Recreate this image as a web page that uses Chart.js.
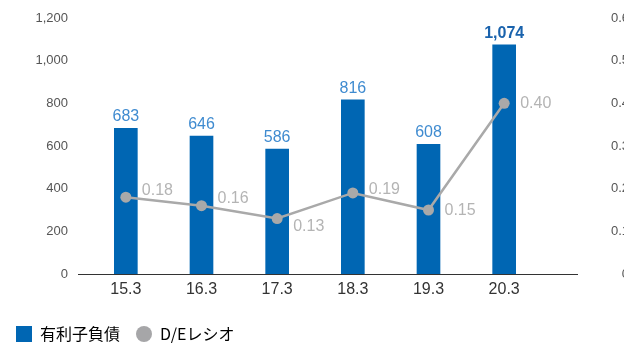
<!DOCTYPE html>
<html lang="ja">
<head>
<meta charset="utf-8">
<title>有利子負債とD/Eレシオ</title>
<script src="https://cdn.jsdelivr.net/npm/chart.js@4/dist/chart.umd.min.js"></script>
<style>
    html, body { margin: 0; padding: 0; background: #fff; }
    #wrap { width: 624px; height: 347px; position: relative; }
</style>
</head>
<body>
<div id="wrap"><canvas id="debtChart"></canvas></div>
<script>
const periods = ['15.3', '16.3', '17.3', '18.3', '19.3', '20.3'];
const debt = [683, 646, 586, 816, 608, 1074];
const deRatio = [0.18, 0.16, 0.13, 0.19, 0.15, 0.40];
const debtTicks = [0, 200, 400, 600, 800, 1000, 1200];
const ratioTicks = [0, 0.1, 0.2, 0.3, 0.4, 0.5, 0.6];

const BAR_BLUE = '#0066b3';
const LINE_GRAY = '#a9a9a9';
const TICK_FONT = "'Liberation Sans', Arial, sans-serif";

// 値ラベルの位置調整 (折れ線ラベルは点ごとに上下をずらす)
const lineLabelShift = [-2, -3, 12, 1, 5, 5];

// 縦軸の目盛ラベル分の上下余白は使わない
function noVerticalPadding(scale) {
    scale.paddingTop = 0;
    scale.paddingBottom = 0;
}

const valueLabels = {
    id: 'valueLabels',
    beforeDatasetsDraw(chart) {
        // 横軸の基線はプロット領域より左右に少し長く引く
        const ctx = chart.ctx;
        const area = chart.chartArea;
        const y0 = Math.round(chart.scales.y.getPixelForValue(0)) + 0.5;
        ctx.save();
        ctx.strokeStyle = '#333';
        ctx.lineWidth = 1;
        ctx.beginPath();
        ctx.moveTo(area.left - 10, y0);
        ctx.lineTo(area.right + 36, y0);
        ctx.stroke();
        ctx.restore();
    },
    afterDatasetsDraw(chart) {
        const ctx = chart.ctx;
        ctx.save();

        // 棒の上の金額
        const barMeta = chart.getDatasetMeta(0);
        ctx.textAlign = 'center';
        ctx.textBaseline = 'alphabetic';
        barMeta.data.forEach((bar, i) => {
            const last = i === debt.length - 1;
            ctx.font = (last ? 'bold ' : '') + '16px ' + TICK_FONT;
            ctx.fillStyle = last ? '#1a63ad' : '#3f8bd0';
            ctx.fillText(debt[i].toLocaleString('en-US'), bar.x, bar.y - 7);
        });

        // 折れ線の右側に比率
        const lineMeta = chart.getDatasetMeta(1);
        ctx.textAlign = 'left';
        ctx.font = '16px ' + TICK_FONT;
        ctx.fillStyle = '#b4b4b4';
        lineMeta.data.forEach((pt, i) => {
            ctx.fillText(deRatio[i].toFixed(2), pt.x + 16, pt.y + lineLabelShift[i]);
        });

        ctx.restore();
    }
};

new Chart(document.getElementById('debtChart'), {
    data: {
        labels: periods,
        datasets: [
            {
                type: 'bar',
                label: '有利子負債',
                data: debt,
                backgroundColor: BAR_BLUE,
                barThickness: 23,
                yAxisID: 'y',
                order: 1,
                legendColor: BAR_BLUE
            },
            {
                type: 'line',
                label: 'D/Eレシオ',
                data: deRatio,
                borderColor: LINE_GRAY,
                borderWidth: 2.5,
                backgroundColor: LINE_GRAY,
                pointBackgroundColor: LINE_GRAY,
                pointBorderWidth: 0,
                pointRadius: 5.5,
                tension: 0,
                yAxisID: 'y1',
                order: 0,
                legendColor: '#a6a6a8'
            }
        ]
    },
    options: {
        responsive: true,
        maintainAspectRatio: false,
        animation: false,
        events: [],
        layout: { autoPadding: false, padding: { top: 18, bottom: -5, left: 0, right: -5 } },
        scales: {
            x: {
                afterFit(scale) { scale.height = 36; },
                grid: { display: false, drawTicks: false, tickLength: 0 },
                border: { display: false },
                ticks: {
                    color: '#333',
                    padding: 6,
                    font: { size: 16, family: TICK_FONT }
                }
            },
            y: {
                position: 'left',
                min: 0,
                max: 1200,
                afterBuildTicks(scale) {
                    scale.ticks = debtTicks.map(v => ({ value: v }));
                },
                afterFit(scale) {
                    scale.width = 88;
                    noVerticalPadding(scale);
                },
                grid: { display: false, drawTicks: false, tickLength: 0 },
                border: { display: false },
                ticks: {
                    color: '#555',
                    padding: 20,
                    font: { size: 13, family: TICK_FONT },
                    callback: v => v.toLocaleString('en-US')
                }
            },
            y1: {
                position: 'right',
                min: 0,
                max: 0.6,
                afterBuildTicks(scale) {
                    scale.ticks = ratioTicks.map(v => ({ value: v }));
                },
                afterFit(scale) {
                    scale.width = 87;
                    noVerticalPadding(scale);
                },
                grid: { display: false, drawTicks: false, tickLength: 0 },
                border: { display: false },
                ticks: {
                    color: '#555',
                    padding: 0,
                    crossAlign: 'far',
                    font: { size: 13, family: TICK_FONT },
                    callback: v => (v === 0 ? '0' : v.toFixed(1))
                }
            }
        },
        plugins: {
            tooltip: { enabled: false },
            legend: {
                position: 'bottom',
                align: 'start',
                labels: {
                    boxWidth: 16,
                    boxHeight: 16,
                    padding: 16,
                    color: '#444',
                    font: { size: 16, family: "'Noto Sans CJK JP', sans-serif" },
                    useBorderRadius: true,
                    generateLabels(chart) {
                        return chart.data.datasets.map((ds, i) => ({
                            text: ds.label,
                            fillStyle: ds.legendColor,
                            strokeStyle: ds.legendColor,
                            lineWidth: 0,
                            borderRadius: ds.type === 'line' ? 8 : 0,
                            datasetIndex: i,
                            hidden: !chart.isDatasetVisible(i)
                        }));
                    }
                }
            }
        }
    },
    plugins: [valueLabels]
});
</script>
</body>
</html>
